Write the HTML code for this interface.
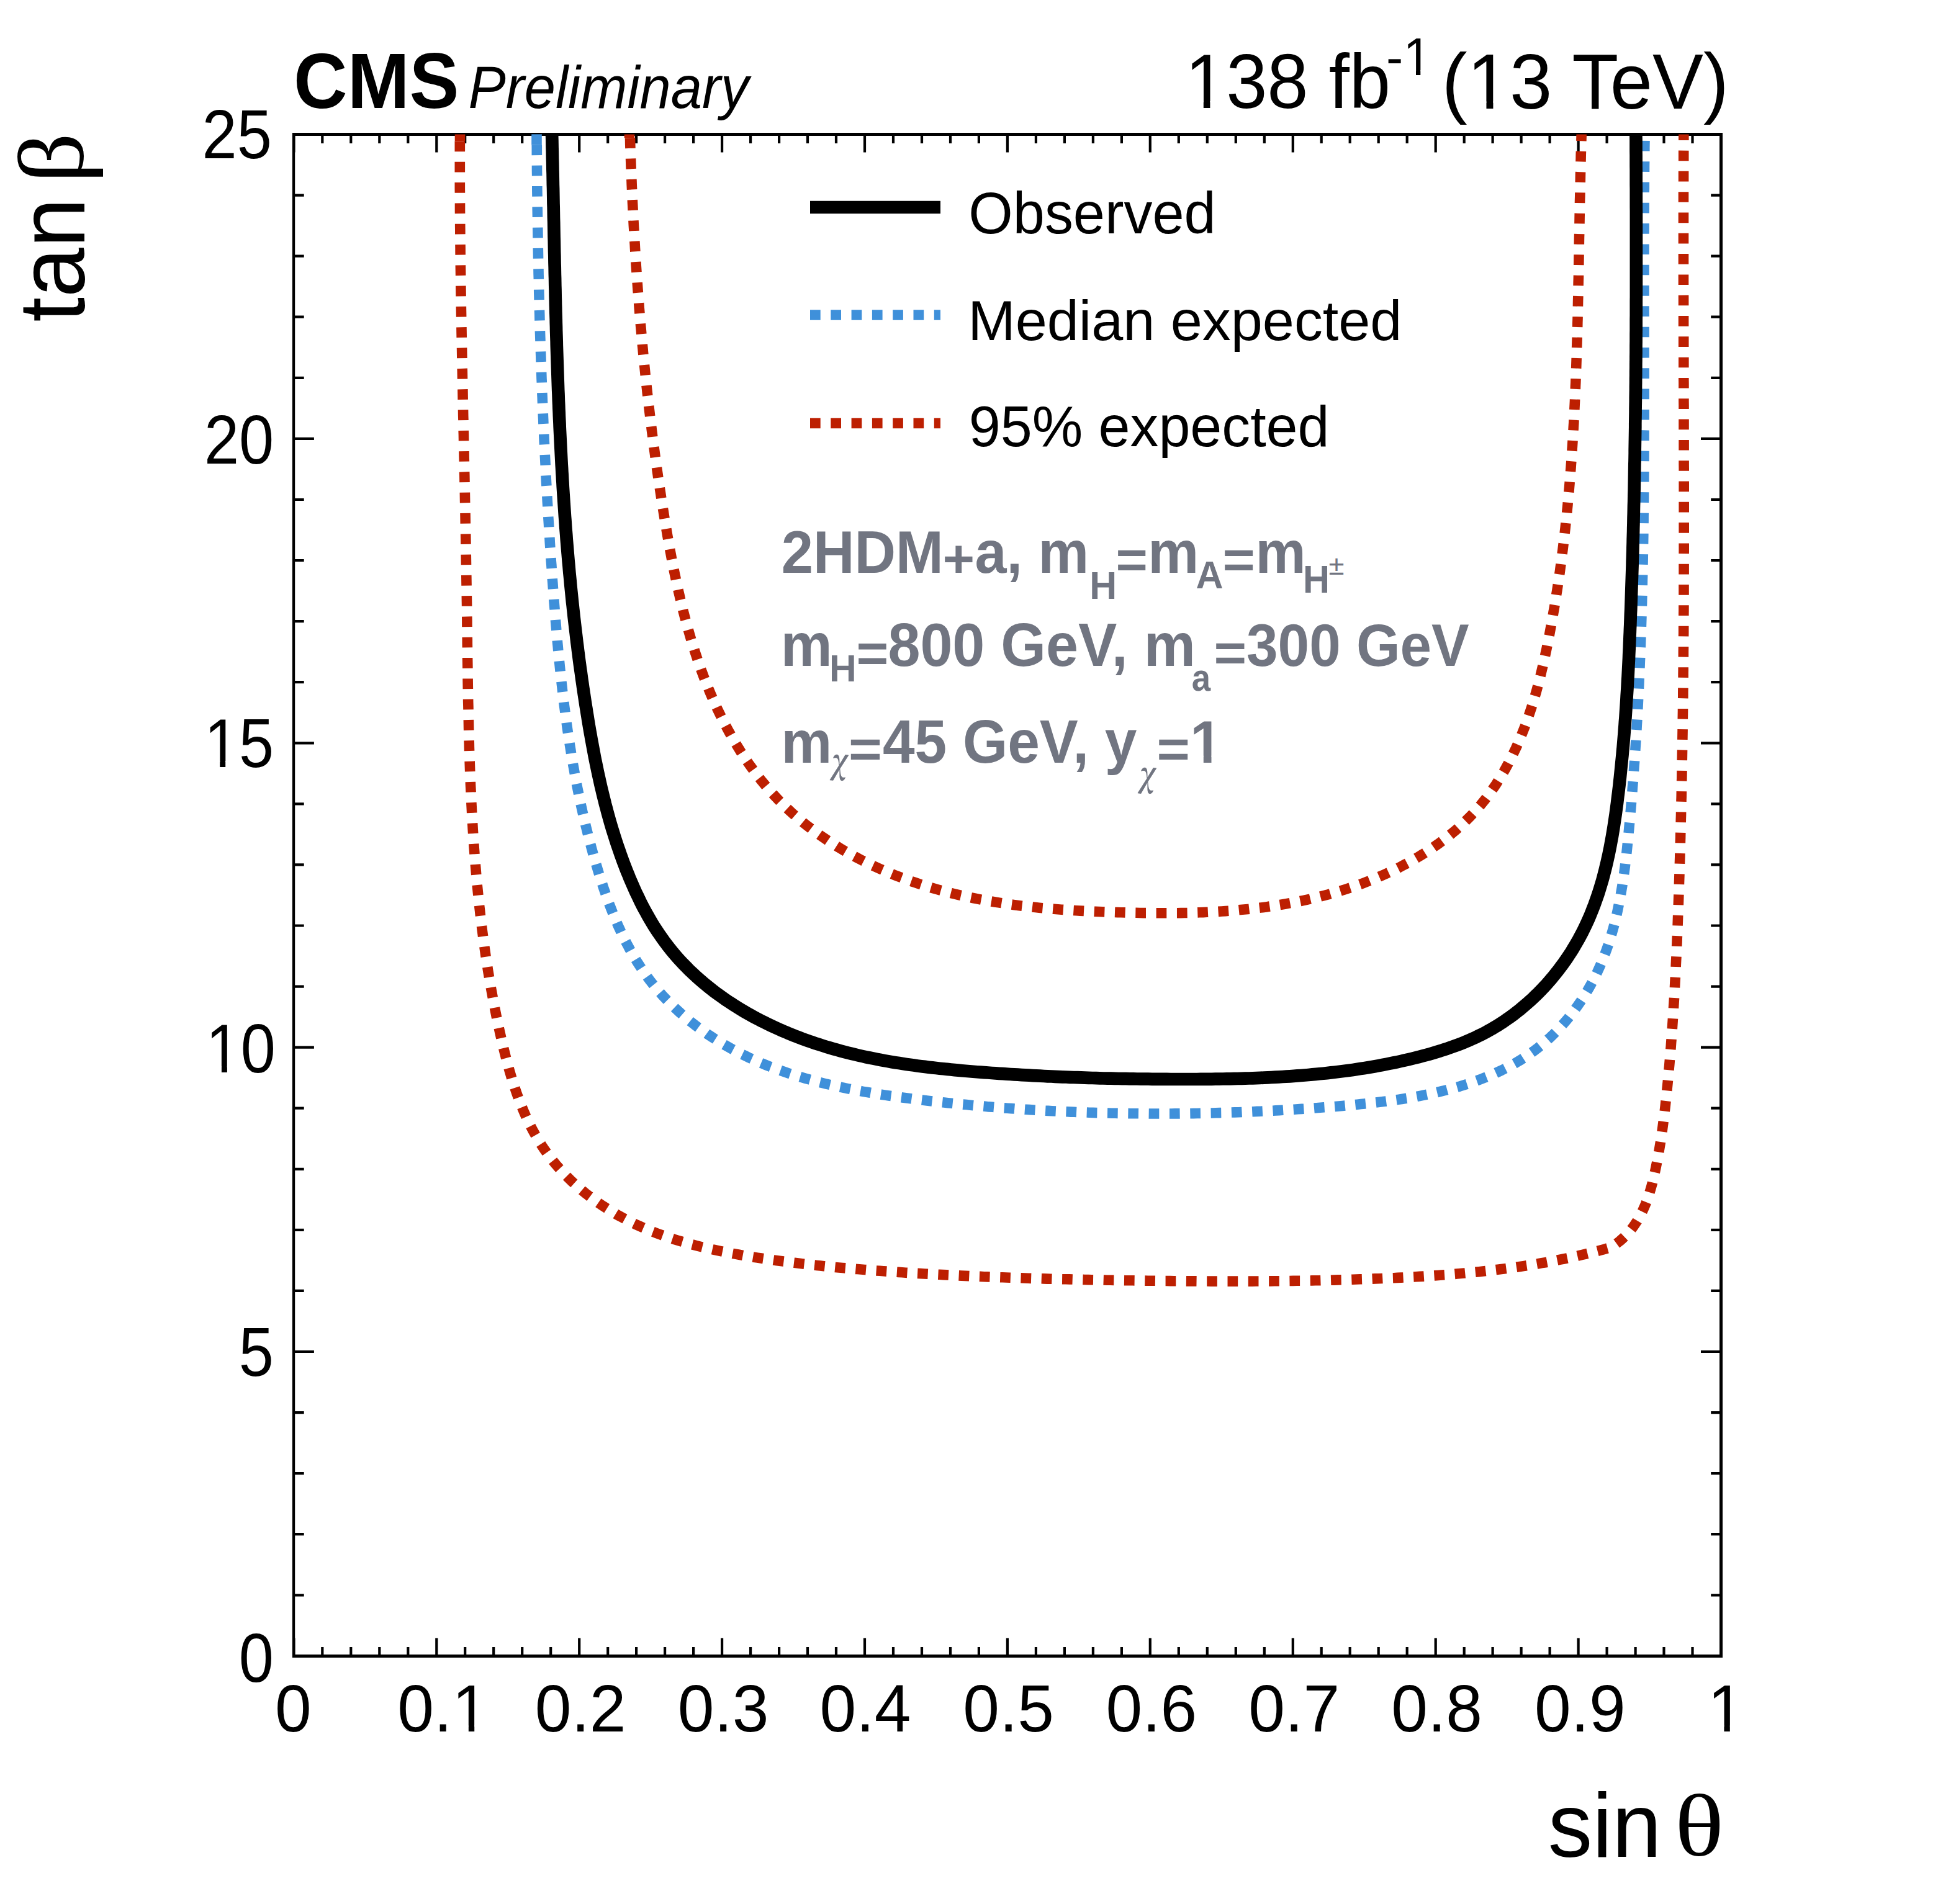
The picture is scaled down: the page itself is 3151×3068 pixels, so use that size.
<!DOCTYPE html>
<html><head><meta charset="utf-8"><title>CMS Preliminary</title><style>
html,body{margin:0;padding:0;background:#fff;overflow:hidden;}
svg{display:block;}
text{font-family:"Liberation Sans",Arial,Helvetica,sans-serif;}
.g{font-family:"Liberation Serif","DejaVu Serif",serif;}
.d{font-family:"DejaVu Serif","Liberation Serif",serif;}
.ns{font-family:"Noto Serif CJK SC","DejaVu Serif",serif;}
</style></head><body>
<svg width="3151" height="3068" viewBox="0 0 3151 3068">
<rect x="0" y="0" width="3151" height="3068" fill="#fff"/>
<defs><clipPath id="pc"><rect x="473.4" y="216.5" width="2299.2" height="2451.9"/></clipPath></defs>
<path d="M473.4 2668.4V2639.4M473.4 216.5V245.5M519.3 2668.4V2653.9M519.3 216.5V231M565.3 2668.4V2653.9M565.3 216.5V231M611.3 2668.4V2653.9M611.3 216.5V231M657.3 2668.4V2653.9M657.3 216.5V231M703.3 2668.4V2639.4M703.3 216.5V245.5M749.2 2668.4V2653.9M749.2 216.5V231M795.2 2668.4V2653.9M795.2 216.5V231M841.2 2668.4V2653.9M841.2 216.5V231M887.2 2668.4V2653.9M887.2 216.5V231M933.2 2668.4V2639.4M933.2 216.5V245.5M979.2 2668.4V2653.9M979.2 216.5V231M1025.1 2668.4V2653.9M1025.1 216.5V231M1071.1 2668.4V2653.9M1071.1 216.5V231M1117.1 2668.4V2653.9M1117.1 216.5V231M1163.1 2668.4V2639.4M1163.1 216.5V245.5M1209.1 2668.4V2653.9M1209.1 216.5V231M1255.1 2668.4V2653.9M1255.1 216.5V231M1301 2668.4V2653.9M1301 216.5V231M1347 2668.4V2653.9M1347 216.5V231M1393 2668.4V2639.4M1393 216.5V245.5M1439 2668.4V2653.9M1439 216.5V231M1485 2668.4V2653.9M1485 216.5V231M1531 2668.4V2653.9M1531 216.5V231M1576.9 2668.4V2653.9M1576.9 216.5V231M1622.9 2668.4V2639.4M1622.9 216.5V245.5M1668.9 2668.4V2653.9M1668.9 216.5V231M1714.9 2668.4V2653.9M1714.9 216.5V231M1760.9 2668.4V2653.9M1760.9 216.5V231M1806.9 2668.4V2653.9M1806.9 216.5V231M1852.8 2668.4V2639.4M1852.8 216.5V245.5M1898.8 2668.4V2653.9M1898.8 216.5V231M1944.8 2668.4V2653.9M1944.8 216.5V231M1990.8 2668.4V2653.9M1990.8 216.5V231M2036.8 2668.4V2653.9M2036.8 216.5V231M2082.8 2668.4V2639.4M2082.8 216.5V245.5M2128.7 2668.4V2653.9M2128.7 216.5V231M2174.7 2668.4V2653.9M2174.7 216.5V231M2220.7 2668.4V2653.9M2220.7 216.5V231M2266.7 2668.4V2653.9M2266.7 216.5V231M2312.7 2668.4V2639.4M2312.7 216.5V245.5M2358.7 2668.4V2653.9M2358.7 216.5V231M2404.6 2668.4V2653.9M2404.6 216.5V231M2450.6 2668.4V2653.9M2450.6 216.5V231M2496.6 2668.4V2653.9M2496.6 216.5V231M2542.6 2668.4V2639.4M2542.6 216.5V245.5M2588.6 2668.4V2653.9M2588.6 216.5V231M2634.6 2668.4V2653.9M2634.6 216.5V231M2680.5 2668.4V2653.9M2680.5 216.5V231M2726.5 2668.4V2653.9M2726.5 216.5V231M2772.5 2668.4V2639.4M2772.5 216.5V245.5M473.4 2668.4H505.9M2772.5 2668.4H2740M473.4 2570.3H489.7M2772.5 2570.3H2756.2M473.4 2472.2H489.7M2772.5 2472.2H2756.2M473.4 2374.2H489.7M2772.5 2374.2H2756.2M473.4 2276.1H489.7M2772.5 2276.1H2756.2M473.4 2178H505.9M2772.5 2178H2740M473.4 2079.9H489.7M2772.5 2079.9H2756.2M473.4 1981.9H489.7M2772.5 1981.9H2756.2M473.4 1883.8H489.7M2772.5 1883.8H2756.2M473.4 1785.7H489.7M2772.5 1785.7H2756.2M473.4 1687.6H505.9M2772.5 1687.6H2740M473.4 1589.6H489.7M2772.5 1589.6H2756.2M473.4 1491.5H489.7M2772.5 1491.5H2756.2M473.4 1393.4H489.7M2772.5 1393.4H2756.2M473.4 1295.3H489.7M2772.5 1295.3H2756.2M473.4 1197.3H505.9M2772.5 1197.3H2740M473.4 1099.2H489.7M2772.5 1099.2H2756.2M473.4 1001.1H489.7M2772.5 1001.1H2756.2M473.4 903H489.7M2772.5 903H2756.2M473.4 805H489.7M2772.5 805H2756.2M473.4 706.9H505.9M2772.5 706.9H2740M473.4 608.8H489.7M2772.5 608.8H2756.2M473.4 510.7H489.7M2772.5 510.7H2756.2M473.4 412.7H489.7M2772.5 412.7H2756.2M473.4 314.6H489.7M2772.5 314.6H2756.2M473.4 216.5H505.9M2772.5 216.5H2740" stroke="#000" stroke-width="4.2" fill="none"/>
<path d="M471 214.1H2775V218.9H471Z M471 2665.9H2775V2670.9H471Z M470.9 214.1H475.2V2670.9H470.9Z M2770 214.1H2775V2670.9H2770Z" fill="#000"/>
<g clip-path="url(#pc)" fill="none" stroke-linejoin="round">
<path d="M741.0 190.0 L741.0 196.0 741.0 202.0 740.9 208.0 740.9 214.0 740.9 220.0 740.8 226.0 740.8 232.0 740.8 238.0 740.8 244.0 740.8 250.0 740.8 256.0 740.8 262.0 740.8 268.0 740.8 274.0 740.8 280.0 740.8 286.0 740.8 292.0 740.8 298.0 740.8 304.0 740.9 310.0 740.9 316.0 740.9 322.0 741.0 328.0 741.0 334.1 741.0 340.1 741.1 346.1 741.1 352.1 741.2 358.1 741.2 364.1 741.3 370.1 741.3 376.1 741.4 382.1 741.4 388.1 741.5 394.1 741.6 400.1 741.6 406.1 741.7 412.1 741.8 418.1 741.8 424.1 741.9 430.1 742.0 436.1 742.1 442.1 742.2 448.1 742.2 454.1 742.3 460.1 742.4 466.1 742.5 472.1 742.6 478.1 742.7 484.1 742.8 490.1 742.9 496.1 743.0 502.1 743.1 508.1 743.2 514.1 743.3 520.1 743.4 526.1 743.5 532.1 743.6 538.1 743.7 544.1 743.8 550.1 743.9 556.1 744.1 562.1 744.2 568.1 744.3 574.1 744.4 580.1 744.5 586.1 744.6 592.1 744.8 598.1 744.9 604.1 745.0 610.1 745.1 616.1 745.2 622.1 745.4 628.1 745.5 634.1 745.6 640.1 745.7 646.1 745.9 652.1 746.0 658.1 746.1 664.1 746.2 670.1 746.4 676.1 746.5 682.1 746.6 688.1 746.7 694.1 746.9 700.1 747.0 706.1 747.1 712.1 747.3 718.1 747.4 724.1 747.5 730.1 747.6 736.1 747.8 742.1 747.9 748.1 748.0 754.1 748.1 760.1 748.3 766.1 748.4 772.1 748.5 778.1 748.6 784.1 748.8 790.1 748.9 796.2 749.0 802.2 749.1 808.2 749.3 814.2 749.4 820.2 749.5 826.2 749.6 832.2 749.7 838.2 749.8 844.2 750.0 850.2 750.1 856.2 750.2 862.2 750.3 868.2 750.4 874.2 750.5 880.2 750.6 886.2 750.7 892.2 750.8 898.2 750.9 904.2 751.0 910.2 751.1 916.2 751.2 922.2 751.3 928.2 751.4 934.2 751.5 940.2 751.6 946.2 751.7 952.2 751.8 958.2 751.9 964.2 752.0 970.2 752.1 976.2 752.1 982.2 752.2 988.2 752.3 994.2 752.4 1000.2 752.4 1006.2 752.5 1012.2 752.6 1018.2 752.7 1024.2 752.8 1030.2 752.8 1036.2 752.9 1042.2 753.0 1048.2 753.1 1054.2 753.1 1060.2 753.2 1066.2 753.3 1072.2 753.4 1078.2 753.5 1084.2 753.6 1090.2 753.6 1096.2 753.7 1102.2 753.8 1108.2 753.9 1114.2 754.0 1120.2 754.1 1126.2 754.2 1132.2 754.4 1138.2 754.5 1144.2 754.6 1150.2 754.7 1156.2 754.9 1162.2 755.0 1168.2 755.1 1174.2 755.3 1180.2 755.4 1186.2 755.6 1192.2 755.8 1198.2 755.9 1204.2 756.1 1210.2 756.3 1216.2 756.5 1222.2 756.7 1228.2 756.9 1234.2 757.1 1240.2 757.3 1246.2 757.6 1252.2 757.8 1258.2 758.0 1264.2 758.3 1270.2 758.6 1276.2 758.8 1282.2 759.1 1288.2 759.4 1294.2 759.7 1300.2 760.0 1306.2 760.3 1312.2 760.7 1318.2 761.0 1324.2 761.4 1330.2 761.7 1336.2 762.1 1342.1 762.5 1348.1 762.9 1354.1 763.3 1360.1 763.7 1366.1 764.2 1372.1 764.6 1378.1 765.1 1384.1 765.6 1390.0 766.1 1396.0 766.6 1402.0 767.1 1408.0 767.6 1414.0 768.2 1419.9 768.7 1425.9 769.3 1431.9 769.9 1437.9 770.5 1443.8 771.1 1449.8 771.7 1455.8 772.4 1461.7 773.1 1467.7 773.7 1473.7 774.4 1479.6 775.1 1485.6 775.9 1491.5 776.6 1497.5 777.4 1503.5 778.2 1509.4 779.0 1515.4 779.8 1521.3 780.6 1527.2 781.5 1533.2 782.3 1539.1 783.2 1545.1 784.1 1551.0 785.1 1556.9 786.0 1562.9 787.0 1568.8 788.0 1574.7 789.0 1580.6 790.0 1586.5 791.0 1592.4 792.1 1598.3 793.2 1604.2 794.3 1610.1 795.4 1616.0 796.6 1621.9 797.7 1627.8 798.9 1633.7 800.1 1639.6 801.3 1645.5 802.6 1651.3 803.9 1657.2 805.2 1663.1 806.5 1668.9 807.8 1674.8 809.2 1680.6 810.6 1686.5 812.0 1692.3 813.5 1698.1 814.9 1703.9 816.5 1709.7 818.0 1715.5 819.6 1721.3 821.3 1727.1 823.0 1732.8 824.7 1738.6 826.5 1744.3 828.4 1750.0 830.3 1755.7 832.3 1761.4 834.3 1767.0 836.4 1772.6 838.6 1778.2 840.8 1783.8 843.1 1789.4 845.5 1794.9 847.9 1800.3 850.5 1805.8 853.1 1811.2 855.8 1816.5 858.6 1821.8 861.5 1827.1 864.5 1832.3 867.5 1837.5 870.7 1842.6 873.9 1847.6 877.3 1852.6 880.8 1857.5 884.3 1862.3 888.0 1867.1 891.7 1871.8 895.5 1876.4 899.5 1881.0 903.5 1885.4 907.5 1889.8 911.7 1894.2 915.9 1898.4 920.2 1902.6 924.6 1906.7 929.1 1910.7 933.6 1914.7 938.2 1918.6 942.8 1922.4 947.5 1926.1 952.3 1929.7 957.1 1933.3 962.0 1936.8 966.9 1940.2 971.9 1943.6 976.9 1946.8 982.0 1950.0 987.2 1953.1 992.3 1956.2 997.5 1959.2 1002.8 1962.0 1008.1 1964.9 1013.4 1967.6 1018.8 1970.3 1024.2 1972.9 1029.7 1975.4 1035.2 1977.8 1040.7 1980.2 1046.2 1982.5 1051.8 1984.8 1057.4 1986.9 1063.0 1989.0 1068.7 1991.1 1074.3 1993.0 1080.0 1994.9 1085.7 1996.8 1091.5 1998.6 1097.2 2000.3 1103.0 2002.0 1108.7 2003.6 1114.5 2005.2 1120.3 2006.7 1126.2 2008.2 1132.0 2009.6 1137.8 2011.0 1143.7 2012.4 1149.5 2013.7 1155.4 2014.9 1161.3 2016.1 1167.2 2017.3 1173.0 2018.5 1178.9 2019.6 1184.8 2020.7 1190.8 2021.7 1196.7 2022.8 1202.6 2023.8 1208.5 2024.7 1214.4 2025.7 1220.4 2026.6 1226.3 2027.5 1232.2 2028.4 1238.2 2029.3 1244.1 2030.1 1250.1 2031.0 1256.0 2031.8 1262.0 2032.6 1267.9 2033.3 1273.9 2034.1 1279.8 2034.8 1285.8 2035.6 1291.7 2036.3 1297.7 2037.0 1303.7 2037.6 1309.6 2038.3 1315.6 2038.9 1321.6 2039.6 1327.5 2040.2 1333.5 2040.8 1339.5 2041.3 1345.5 2041.9 1351.4 2042.5 1357.4 2043.0 1363.4 2043.5 1369.4 2044.1 1375.4 2044.6 1381.3 2045.1 1387.3 2045.6 1393.3 2046.0 1399.3 2046.5 1405.3 2047.0 1411.3 2047.4 1417.2 2047.8 1423.2 2048.3 1429.2 2048.7 1435.2 2049.1 1441.2 2049.5 1447.2 2049.9 1453.2 2050.3 1459.2 2050.7 1465.2 2051.1 1471.1 2051.4 1477.1 2051.8 1483.1 2052.1 1489.1 2052.5 1495.1 2052.8 1501.1 2053.2 1507.1 2053.5 1513.1 2053.8 1519.1 2054.1 1525.1 2054.4 1531.1 2054.7 1537.1 2055.0 1543.1 2055.3 1549.1 2055.6 1555.1 2055.9 1561.1 2056.1 1567.1 2056.4 1573.0 2056.7 1579.0 2056.9 1585.0 2057.2 1591.0 2057.4 1597.0 2057.6 1603.0 2057.9 1609.0 2058.1 1615.0 2058.3 1621.0 2058.5 1627.0 2058.7 1633.0 2058.9 1639.0 2059.1 1645.0 2059.3 1651.0 2059.5 1657.0 2059.7 1663.0 2059.9 1669.0 2060.0 1675.0 2060.2 1681.0 2060.4 1687.0 2060.6 1693.0 2060.7 1699.0 2060.9 1705.0 2061.0 1711.0 2061.2 1717.0 2061.3 1723.0 2061.4 1729.0 2061.6 1735.0 2061.7 1741.0 2061.8 1747.0 2062.0 1753.0 2062.1 1759.0 2062.2 1765.0 2062.3 1771.0 2062.4 1777.0 2062.5 1783.0 2062.7 1789.0 2062.8 1795.0 2062.9 1801.0 2063.0 1807.0 2063.1 1813.0 2063.2 1819.0 2063.2 1825.0 2063.3 1831.0 2063.4 1837.0 2063.5 1843.1 2063.6 1849.1 2063.7 1855.1 2063.7 1861.1 2063.8 1867.1 2063.9 1873.1 2064.0 1879.1 2064.0 1885.1 2064.1 1891.1 2064.2 1897.1 2064.2 1903.1 2064.3 1909.1 2064.3 1915.1 2064.4 1921.1 2064.4 1927.1 2064.4 1933.1 2064.5 1939.1 2064.5 1945.1 2064.5 1951.1 2064.6 1957.1 2064.6 1963.1 2064.6 1969.1 2064.6 1975.1 2064.6 1981.1 2064.6 1987.1 2064.6 1993.1 2064.6 1999.1 2064.6 2005.1 2064.6 2011.1 2064.6 2017.1 2064.6 2023.1 2064.5 2029.1 2064.5 2035.1 2064.5 2041.1 2064.4 2047.1 2064.4 2053.1 2064.3 2059.1 2064.2 2065.1 2064.2 2071.1 2064.1 2077.1 2064.0 2083.1 2063.9 2089.1 2063.8 2095.1 2063.8 2101.1 2063.7 2107.1 2063.5 2113.1 2063.4 2119.1 2063.3 2125.1 2063.2 2131.1 2063.0 2137.1 2062.9 2143.1 2062.8 2149.1 2062.6 2155.1 2062.4 2161.1 2062.3 2167.1 2062.1 2173.1 2061.9 2179.1 2061.7 2185.1 2061.5 2191.1 2061.3 2197.1 2061.1 2203.1 2060.9 2209.1 2060.7 2215.1 2060.4 2221.1 2060.2 2227.1 2060.0 2233.1 2059.7 2239.1 2059.4 2245.1 2059.2 2251.1 2058.9 2257.1 2058.6 2263.1 2058.3 2269.1 2058.0 2275.1 2057.6 2281.1 2057.3 2287.1 2056.9 2293.1 2056.6 2299.1 2056.2 2305.0 2055.8 2311.0 2055.4 2317.0 2055.0 2323.0 2054.5 2329.0 2054.1 2335.0 2053.6 2341.0 2053.1 2346.9 2052.6 2352.9 2052.1 2358.9 2051.6 2364.9 2051.0 2370.8 2050.4 2376.8 2049.8 2382.8 2049.2 2388.8 2048.6 2394.7 2047.9 2400.7 2047.2 2406.6 2046.5 2412.6 2045.8 2418.6 2045.1 2424.5 2044.3 2430.5 2043.5 2436.4 2042.7 2442.4 2041.9 2448.3 2041.0 2454.2 2040.1 2460.2 2039.2 2466.1 2038.2 2472.0 2037.3 2477.9 2036.3 2483.8 2035.2 2489.8 2034.2 2495.7 2033.1 2501.6 2032.0 2507.4 2030.9 2513.3 2029.7 2519.2 2028.5 2525.1 2027.3 2531.0 2026.0 2536.8 2024.7 2542.7 2023.4 2548.5 2022.0 2554.4 2020.6 2560.2 2019.2 2566.0 2017.8 2571.8 2016.3 2577.6 2014.8 2583.4 2013.2 2589.2 2011.6 2595.0 2010.0 2600.1 2006.7 2604.9 2003.2 2609.7 1999.5 2614.2 1995.5 2618.5 1991.4 2622.6 1987.0 2626.6 1982.5 2630.3 1977.7 2633.8 1972.8 2637.1 1967.8 2640.1 1962.7 2643.0 1957.4 2645.7 1952.0 2648.2 1946.5 2650.6 1941.0 2652.8 1935.4 2654.8 1929.7 2656.7 1924.0 2658.4 1918.3 2660.1 1912.5 2661.7 1906.7 2663.1 1900.9 2664.5 1895.0 2665.8 1889.2 2667.1 1883.3 2668.3 1877.4 2669.5 1871.5 2670.6 1865.6 2671.7 1859.7 2672.7 1853.8 2673.7 1847.8 2674.7 1841.9 2675.6 1836.0 2676.5 1830.0 2677.4 1824.1 2678.2 1818.1 2679.0 1812.1 2679.8 1806.2 2680.6 1800.2 2681.3 1794.3 2682.0 1788.3 2682.7 1782.3 2683.3 1776.3 2684.0 1770.4 2684.6 1764.4 2685.2 1758.4 2685.8 1752.4 2686.4 1746.4 2687.0 1740.4 2687.5 1734.5 2688.1 1728.5 2688.6 1722.5 2689.2 1716.5 2689.7 1710.5 2690.2 1704.5 2690.7 1698.5 2691.2 1692.5 2691.7 1686.5 2692.1 1680.5 2692.6 1674.6 2693.0 1668.6 2693.5 1662.6 2693.9 1656.6 2694.3 1650.6 2694.7 1644.6 2695.1 1638.6 2695.5 1632.6 2695.9 1626.6 2696.2 1620.6 2696.6 1614.6 2697.0 1608.6 2697.3 1602.6 2697.7 1596.6 2698.0 1590.6 2698.3 1584.6 2698.6 1578.6 2699.0 1572.6 2699.3 1566.5 2699.6 1560.5 2699.8 1554.5 2700.1 1548.5 2700.4 1542.5 2700.7 1536.5 2701.0 1530.5 2701.2 1524.5 2701.5 1518.5 2701.7 1512.5 2702.0 1506.5 2702.2 1500.5 2702.5 1494.5 2702.7 1488.5 2702.9 1482.5 2703.1 1476.5 2703.4 1470.4 2703.6 1464.4 2703.8 1458.4 2704.0 1452.4 2704.2 1446.4 2704.4 1440.4 2704.6 1434.4 2704.8 1428.4 2705.0 1422.4 2705.2 1416.4 2705.4 1410.4 2705.6 1404.3 2705.7 1398.3 2705.9 1392.3 2706.1 1386.3 2706.3 1380.3 2706.4 1374.3 2706.6 1368.3 2706.8 1362.3 2706.9 1356.3 2707.1 1350.3 2707.2 1344.3 2707.4 1338.2 2707.5 1332.2 2707.7 1326.2 2707.8 1320.2 2708.0 1314.2 2708.1 1308.2 2708.3 1302.2 2708.4 1296.2 2708.5 1290.2 2708.7 1284.2 2708.8 1278.1 2708.9 1272.1 2709.0 1266.1 2709.1 1260.1 2709.3 1254.1 2709.4 1248.1 2709.5 1242.1 2709.6 1236.1 2709.7 1230.1 2709.8 1224.0 2709.9 1218.0 2710.0 1212.0 2710.1 1206.0 2710.2 1200.0 2710.3 1194.0 2710.4 1188.0 2710.5 1182.0 2710.6 1176.0 2710.7 1169.9 2710.7 1163.9 2710.8 1157.9 2710.9 1151.9 2711.0 1145.9 2711.0 1139.9 2711.1 1133.9 2711.2 1127.9 2711.3 1121.8 2711.3 1115.8 2711.4 1109.8 2711.5 1103.8 2711.5 1097.8 2711.6 1091.8 2711.6 1085.8 2711.7 1079.8 2711.7 1073.8 2711.8 1067.7 2711.8 1061.7 2711.9 1055.7 2711.9 1049.7 2712.0 1043.7 2712.0 1037.7 2712.1 1031.7 2712.1 1025.7 2712.2 1019.7 2712.2 1013.6 2712.2 1007.6 2712.3 1001.6 2712.3 995.6 2712.3 989.6 2712.4 983.6 2712.4 977.6 2712.4 971.6 2712.4 965.5 2712.5 959.5 2712.5 953.5 2712.5 947.5 2712.5 941.5 2712.5 935.5 2712.6 929.5 2712.6 923.5 2712.6 917.4 2712.6 911.4 2712.6 905.4 2712.6 899.4 2712.6 893.4 2712.7 887.4 2712.7 881.4 2712.7 875.4 2712.7 869.4 2712.7 863.3 2712.7 857.3 2712.7 851.3 2712.7 845.3 2712.7 839.3 2712.7 833.3 2712.7 827.3 2712.7 821.3 2712.7 815.2 2712.7 809.2 2712.7 803.2 2712.7 797.2 2712.7 791.2 2712.7 785.2 2712.7 779.2 2712.7 773.2 2712.7 767.1 2712.7 761.1 2712.7 755.1 2712.6 749.1 2712.6 743.1 2712.6 737.1 2712.6 731.1 2712.6 725.1 2712.6 719.1 2712.6 713.0 2712.6 707.0 2712.6 701.0 2712.5 695.0 2712.5 689.0 2712.5 683.0 2712.5 677.0 2712.5 671.0 2712.5 664.9 2712.5 658.9 2712.5 652.9 2712.4 646.9 2712.4 640.9 2712.4 634.9 2712.4 628.9 2712.4 622.9 2712.4 616.9 2712.3 610.8 2712.3 604.8 2712.3 598.8 2712.3 592.8 2712.3 586.8 2712.3 580.8 2712.3 574.8 2712.2 568.8 2712.2 562.7 2712.2 556.7 2712.2 550.7 2712.2 544.7 2712.2 538.7 2712.2 532.7 2712.1 526.7 2712.1 520.7 2712.1 514.6 2712.1 508.6 2712.1 502.6 2712.1 496.6 2712.1 490.6 2712.1 484.6 2712.1 478.6 2712.0 472.6 2712.0 466.6 2712.0 460.5 2712.0 454.5 2712.0 448.5 2712.0 442.5 2712.0 436.5 2712.0 430.5 2712.0 424.5 2712.0 418.5 2712.0 412.4 2712.0 406.4 2712.0 400.4 2712.0 394.4 2712.0 388.4 2712.0 382.4 2712.0 376.4 2712.0 370.4 2712.0 364.3 2712.0 358.3 2712.0 352.3 2712.0 346.3 2712.0 340.3 2712.0 334.3 2712.0 328.3 2712.0 322.3 2712.0 316.3 2712.0 310.2 2712.0 304.2 2712.1 298.2 2712.1 292.2 2712.1 286.2 2712.1 280.2 2712.1 274.2 2712.1 268.2 2712.2 262.1 2712.2 256.1 2712.2 250.1 2712.2 244.1 2712.3 238.1 2712.3 232.1 2712.3 226.1 2712.3 220.1 2712.4 214.1 2712.4 208.0 2712.4 202.0 2712.5 196.0 2712.5 190.0" stroke="#bd1f01" stroke-width="16.6" stroke-dasharray="16.655 16.655" stroke-dashoffset="29.13"/>
<path d="M1014.0 190.0 L1014.2 196.0 1014.3 202.0 1014.5 208.0 1014.7 214.0 1014.9 220.0 1015.1 226.0 1015.2 232.0 1015.4 238.0 1015.6 244.0 1015.9 250.0 1016.1 256.0 1016.3 262.0 1016.5 268.0 1016.8 274.0 1017.0 280.0 1017.2 286.0 1017.5 292.0 1017.7 298.0 1018.0 304.0 1018.3 310.0 1018.5 316.0 1018.8 322.0 1019.1 328.0 1019.4 334.0 1019.7 340.0 1020.0 346.0 1020.3 352.0 1020.6 358.0 1020.9 364.0 1021.3 370.0 1021.6 376.0 1021.9 382.0 1022.3 388.0 1022.7 394.0 1023.0 400.0 1023.4 406.0 1023.8 412.0 1024.1 418.0 1024.5 424.0 1024.9 430.0 1025.3 436.0 1025.7 441.9 1026.1 447.9 1026.6 453.9 1027.0 459.9 1027.4 465.9 1027.9 471.9 1028.3 477.9 1028.8 483.9 1029.3 489.9 1029.7 495.8 1030.2 501.8 1030.7 507.8 1031.2 513.8 1031.7 519.8 1032.2 525.8 1032.8 531.8 1033.3 537.7 1033.8 543.7 1034.4 549.7 1034.9 555.7 1035.5 561.7 1036.0 567.6 1036.6 573.6 1037.2 579.6 1037.8 585.6 1038.4 591.5 1039.0 597.5 1039.6 603.5 1040.2 609.5 1040.9 615.4 1041.5 621.4 1042.2 627.4 1042.8 633.4 1043.5 639.3 1044.2 645.3 1044.9 651.3 1045.6 657.2 1046.3 663.2 1047.0 669.1 1047.7 675.1 1048.4 681.1 1049.2 687.0 1049.9 693.0 1050.7 698.9 1051.4 704.9 1052.2 710.9 1053.0 716.8 1053.8 722.8 1054.6 728.7 1055.4 734.7 1056.2 740.6 1057.0 746.6 1057.9 752.5 1058.7 758.5 1059.6 764.4 1060.4 770.4 1061.3 776.3 1062.2 782.2 1063.1 788.2 1064.0 794.1 1064.9 800.0 1065.8 806.0 1066.8 811.9 1067.7 817.8 1068.7 823.8 1069.6 829.7 1070.6 835.6 1071.6 841.6 1072.6 847.5 1073.6 853.4 1074.6 859.3 1075.6 865.2 1076.7 871.1 1077.7 877.1 1078.8 883.0 1079.9 888.9 1081.0 894.8 1082.1 900.7 1083.3 906.6 1084.4 912.5 1085.6 918.3 1086.8 924.2 1088.1 930.1 1089.3 936.0 1090.6 941.9 1091.9 947.7 1093.2 953.6 1094.6 959.4 1095.9 965.3 1097.3 971.1 1098.8 976.9 1100.2 982.8 1101.7 988.6 1103.2 994.4 1104.8 1000.2 1106.3 1006.0 1107.9 1011.8 1109.6 1017.6 1111.2 1023.3 1112.9 1029.1 1114.7 1034.8 1116.5 1040.6 1118.3 1046.3 1120.1 1052.0 1122.0 1057.7 1123.9 1063.4 1125.9 1069.1 1127.9 1074.8 1129.9 1080.4 1132.0 1086.0 1134.1 1091.7 1136.3 1097.3 1138.5 1102.8 1140.8 1108.4 1143.1 1114.0 1145.4 1119.5 1147.8 1125.0 1150.2 1130.5 1152.7 1136.0 1155.2 1141.4 1157.8 1146.8 1160.4 1152.2 1163.1 1157.6 1165.8 1163.0 1168.6 1168.3 1171.4 1173.6 1174.3 1178.9 1177.2 1184.1 1180.1 1189.4 1183.2 1194.6 1186.2 1199.7 1189.4 1204.8 1192.5 1209.9 1195.8 1215.0 1199.1 1220.0 1202.4 1225.0 1205.8 1230.0 1209.3 1234.9 1212.8 1239.7 1216.4 1244.6 1220.0 1249.4 1223.7 1254.1 1227.4 1258.8 1231.2 1263.4 1235.1 1268.0 1239.0 1272.6 1243.0 1277.1 1247.1 1281.5 1251.2 1285.9 1255.3 1290.2 1259.6 1294.5 1263.8 1298.7 1268.2 1302.8 1272.6 1306.9 1277.0 1311.0 1281.5 1314.9 1286.1 1318.8 1290.7 1322.7 1295.3 1326.5 1300.0 1330.2 1304.8 1333.9 1309.6 1337.5 1314.4 1341.1 1319.3 1344.6 1324.2 1348.0 1329.2 1351.4 1334.2 1354.8 1339.2 1358.0 1344.3 1361.2 1349.4 1364.4 1354.5 1367.5 1359.7 1370.6 1364.9 1373.6 1370.2 1376.5 1375.4 1379.4 1380.7 1382.2 1386.1 1385.0 1391.4 1387.7 1396.8 1390.3 1402.2 1393.0 1407.6 1395.5 1413.1 1398.0 1418.6 1400.5 1424.1 1402.9 1429.6 1405.2 1435.2 1407.5 1440.7 1409.8 1446.3 1412.0 1451.9 1414.1 1457.5 1416.2 1463.2 1418.3 1468.9 1420.3 1474.5 1422.2 1480.2 1424.1 1485.9 1426.0 1491.7 1427.8 1497.4 1429.5 1503.2 1431.2 1508.9 1432.9 1514.7 1434.5 1520.5 1436.1 1526.3 1437.6 1532.2 1439.1 1538.0 1440.5 1543.8 1441.9 1549.7 1443.2 1555.6 1444.5 1561.4 1445.8 1567.3 1447.0 1573.2 1448.2 1579.1 1449.3 1585.0 1450.4 1590.9 1451.5 1596.8 1452.5 1602.8 1453.5 1608.7 1454.4 1614.6 1455.3 1620.6 1456.2 1626.5 1457.1 1632.5 1457.9 1638.4 1458.7 1644.4 1459.4 1650.3 1460.1 1656.3 1460.8 1662.3 1461.4 1668.2 1462.1 1674.2 1462.7 1680.2 1463.2 1686.2 1463.8 1692.2 1464.3 1698.2 1464.8 1704.1 1465.3 1710.1 1465.7 1716.1 1466.1 1722.1 1466.5 1728.1 1466.9 1734.1 1467.3 1740.1 1467.6 1746.1 1467.9 1752.1 1468.2 1758.1 1468.5 1764.1 1468.8 1770.1 1469.0 1776.1 1469.3 1782.1 1469.5 1788.1 1469.7 1794.1 1469.9 1800.1 1470.1 1806.1 1470.3 1812.1 1470.4 1818.1 1470.6 1824.1 1470.7 1830.1 1470.8 1836.1 1471.0 1842.1 1471.1 1848.1 1471.1 1854.1 1471.2 1860.1 1471.3 1866.2 1471.3 1872.2 1471.3 1878.2 1471.3 1884.2 1471.3 1890.2 1471.2 1896.2 1471.2 1902.2 1471.1 1908.2 1471.0 1914.2 1470.9 1920.2 1470.7 1926.2 1470.5 1932.2 1470.3 1938.2 1470.1 1944.2 1469.8 1950.2 1469.5 1956.2 1469.2 1962.2 1468.9 1968.2 1468.5 1974.2 1468.1 1980.2 1467.7 1986.2 1467.2 1992.1 1466.7 1998.1 1466.1 2004.1 1465.6 2010.1 1465.0 2016.0 1464.3 2022.0 1463.6 2028.0 1462.9 2033.9 1462.2 2039.9 1461.4 2045.8 1460.5 2051.8 1459.6 2057.7 1458.7 2063.6 1457.8 2069.6 1456.8 2075.5 1455.7 2081.4 1454.6 2087.3 1453.5 2093.2 1452.3 2099.0 1451.1 2104.9 1449.8 2110.8 1448.5 2116.6 1447.1 2122.5 1445.7 2128.3 1444.2 2134.1 1442.7 2139.9 1441.2 2145.7 1439.5 2151.4 1437.9 2157.2 1436.2 2162.9 1434.4 2168.7 1432.6 2174.4 1430.7 2180.1 1428.8 2185.7 1426.8 2191.4 1424.8 2197.0 1422.7 2202.6 1420.6 2208.2 1418.4 2213.8 1416.1 2219.3 1413.8 2224.9 1411.4 2230.4 1409.0 2235.8 1406.5 2241.3 1404.0 2246.7 1401.4 2252.1 1398.8 2257.4 1396.0 2262.7 1393.2 2268.0 1390.4 2273.3 1387.5 2278.5 1384.5 2283.7 1381.5 2288.8 1378.4 2293.9 1375.2 2299.0 1372.0 2304.0 1368.7 2309.0 1365.3 2313.9 1361.9 2318.8 1358.4 2323.6 1354.8 2328.4 1351.2 2333.1 1347.5 2337.8 1343.7 2342.4 1339.9 2347.0 1335.9 2351.4 1331.9 2355.9 1327.9 2360.2 1323.7 2364.5 1319.5 2368.7 1315.3 2372.9 1310.9 2377.0 1306.5 2381.0 1302.0 2384.9 1297.5 2388.7 1292.8 2392.4 1288.2 2396.1 1283.4 2399.7 1278.6 2403.2 1273.7 2406.6 1268.8 2410.0 1263.8 2413.2 1258.7 2416.4 1253.6 2419.5 1248.5 2422.6 1243.3 2425.5 1238.1 2428.4 1232.8 2431.2 1227.5 2434.0 1222.2 2436.6 1216.8 2439.2 1211.4 2441.8 1206.0 2444.3 1200.5 2446.7 1195.0 2449.0 1189.5 2451.3 1183.9 2453.5 1178.3 2455.7 1172.7 2457.8 1167.1 2459.9 1161.5 2461.9 1155.8 2463.8 1150.1 2465.7 1144.4 2467.6 1138.7 2469.4 1133.0 2471.1 1127.2 2472.8 1121.5 2474.5 1115.7 2476.1 1109.9 2477.6 1104.1 2479.2 1098.3 2480.7 1092.5 2482.1 1086.7 2483.5 1080.8 2484.9 1075.0 2486.3 1069.1 2487.6 1063.3 2488.9 1057.4 2490.1 1051.5 2491.4 1045.7 2492.6 1039.8 2493.8 1033.9 2494.9 1028.0 2496.1 1022.1 2497.2 1016.2 2498.3 1010.3 2499.4 1004.4 2500.5 998.5 2501.5 992.6 2502.5 986.6 2503.6 980.7 2504.6 974.8 2505.5 968.9 2506.5 962.9 2507.4 957.0 2508.4 951.1 2509.3 945.1 2510.2 939.2 2511.1 933.3 2511.9 927.3 2512.8 921.4 2513.6 915.4 2514.4 909.5 2515.2 903.5 2516.0 897.6 2516.7 891.6 2517.5 885.7 2518.2 879.7 2519.0 873.7 2519.7 867.8 2520.4 861.8 2521.0 855.8 2521.7 849.9 2522.3 843.9 2523.0 837.9 2523.6 832.0 2524.2 826.0 2524.8 820.0 2525.4 814.0 2525.9 808.0 2526.5 802.1 2527.0 796.1 2527.6 790.1 2528.1 784.1 2528.6 778.1 2529.1 772.1 2529.6 766.2 2530.0 760.2 2530.5 754.2 2530.9 748.2 2531.4 742.2 2531.8 736.2 2532.2 730.2 2532.6 724.2 2533.0 718.2 2533.4 712.2 2533.8 706.2 2534.1 700.3 2534.5 694.3 2534.8 688.3 2535.2 682.3 2535.5 676.3 2535.8 670.3 2536.1 664.3 2536.4 658.3 2536.7 652.3 2537.0 646.3 2537.2 640.3 2537.5 634.3 2537.8 628.3 2538.0 622.3 2538.3 616.3 2538.5 610.3 2538.7 604.3 2538.9 598.3 2539.2 592.3 2539.4 586.3 2539.6 580.3 2539.8 574.3 2540.0 568.3 2540.1 562.3 2540.3 556.3 2540.5 550.3 2540.7 544.2 2540.8 538.2 2541.0 532.2 2541.2 526.2 2541.3 520.2 2541.5 514.2 2541.6 508.2 2541.7 502.2 2541.9 496.2 2542.0 490.2 2542.1 484.2 2542.3 478.2 2542.4 472.2 2542.5 466.2 2542.6 460.2 2542.7 454.2 2542.9 448.2 2543.0 442.2 2543.1 436.2 2543.2 430.2 2543.3 424.2 2543.4 418.2 2543.5 412.2 2543.6 406.1 2543.7 400.1 2543.8 394.1 2543.9 388.1 2544.0 382.1 2544.2 376.1 2544.3 370.1 2544.4 364.1 2544.5 358.1 2544.6 352.1 2544.7 346.1 2544.8 340.1 2544.9 334.1 2545.0 328.1 2545.1 322.1 2545.3 316.1 2545.4 310.1 2545.5 304.1 2545.6 298.1 2545.8 292.1 2545.9 286.1 2546.0 280.0 2546.2 274.0 2546.3 268.0 2546.4 262.0 2546.6 256.0 2546.7 250.0 2546.9 244.0 2547.1 238.0 2547.2 232.0 2547.4 226.0 2547.6 220.0 2547.7 214.0 2547.9 208.0 2548.1 202.0 2548.3 196.0 2548.5 190.0" stroke="#bd1f01" stroke-width="16.6" stroke-dasharray="16.660 16.660" stroke-dashoffset="1.03"/>
<path d="M864.5 190.0 L864.5 196.0 864.5 202.0 864.6 208.0 864.6 214.0 864.6 220.0 864.7 226.0 864.7 232.0 864.8 238.0 864.8 244.0 864.8 250.0 864.9 256.0 864.9 262.1 865.0 268.1 865.0 274.1 865.1 280.1 865.2 286.1 865.2 292.1 865.3 298.1 865.3 304.1 865.4 310.1 865.5 316.1 865.6 322.1 865.6 328.1 865.7 334.1 865.8 340.1 865.9 346.1 866.0 352.1 866.1 358.1 866.2 364.1 866.3 370.1 866.4 376.1 866.5 382.1 866.6 388.1 866.7 394.1 866.8 400.1 866.9 406.1 867.0 412.2 867.1 418.2 867.2 424.2 867.4 430.2 867.5 436.2 867.6 442.2 867.8 448.2 867.9 454.2 868.0 460.2 868.2 466.2 868.3 472.2 868.5 478.2 868.6 484.2 868.8 490.2 868.9 496.2 869.1 502.2 869.3 508.2 869.4 514.2 869.6 520.2 869.8 526.2 869.9 532.2 870.1 538.2 870.3 544.2 870.5 550.2 870.7 556.2 870.9 562.2 871.1 568.2 871.3 574.2 871.5 580.2 871.7 586.2 871.9 592.2 872.1 598.2 872.3 604.2 872.5 610.2 872.8 616.2 873.0 622.2 873.2 628.2 873.4 634.2 873.7 640.2 873.9 646.2 874.2 652.2 874.4 658.2 874.7 664.2 874.9 670.2 875.2 676.2 875.4 682.2 875.7 688.2 876.0 694.2 876.3 700.2 876.5 706.2 876.8 712.2 877.1 718.2 877.4 724.2 877.7 730.2 878.0 736.2 878.3 742.2 878.6 748.2 878.9 754.2 879.2 760.2 879.5 766.2 879.8 772.2 880.1 778.2 880.5 784.2 880.8 790.2 881.1 796.2 881.5 802.2 881.8 808.2 882.2 814.2 882.5 820.1 882.9 826.1 883.2 832.1 883.6 838.1 884.0 844.1 884.3 850.1 884.7 856.1 885.1 862.1 885.5 868.1 885.8 874.1 886.2 880.1 886.6 886.1 887.0 892.1 887.4 898.0 887.8 904.0 888.3 910.0 888.7 916.0 889.1 922.0 889.5 928.0 889.9 934.0 890.4 940.0 890.8 946.0 891.3 952.0 891.7 957.9 892.2 963.9 892.6 969.9 893.1 975.9 893.6 981.9 894.0 987.9 894.5 993.9 895.0 999.8 895.5 1005.8 896.0 1011.8 896.5 1017.8 897.1 1023.8 897.6 1029.8 898.1 1035.7 898.7 1041.7 899.2 1047.7 899.8 1053.7 900.4 1059.6 901.0 1065.6 901.6 1071.6 902.2 1077.6 902.8 1083.5 903.5 1089.5 904.1 1095.5 904.8 1101.5 905.5 1107.4 906.1 1113.4 906.8 1119.3 907.6 1125.3 908.3 1131.3 909.0 1137.2 909.8 1143.2 910.6 1149.1 911.4 1155.1 912.2 1161.0 913.0 1167.0 913.8 1172.9 914.7 1178.9 915.6 1184.8 916.5 1190.8 917.4 1196.7 918.3 1202.6 919.3 1208.5 920.2 1214.5 921.2 1220.4 922.2 1226.3 923.2 1232.2 924.3 1238.1 925.4 1244.1 926.4 1250.0 927.5 1255.9 928.7 1261.8 929.8 1267.7 931.0 1273.5 932.2 1279.4 933.4 1285.3 934.7 1291.2 935.9 1297.1 937.2 1302.9 938.5 1308.8 939.9 1314.6 941.2 1320.5 942.6 1326.3 944.0 1332.2 945.5 1338.0 946.9 1343.8 948.4 1349.6 949.9 1355.4 951.5 1361.2 953.0 1367.0 954.6 1372.8 956.2 1378.6 957.9 1384.4 959.6 1390.1 961.3 1395.9 963.0 1401.7 964.8 1407.4 966.6 1413.1 968.4 1418.8 970.3 1424.6 972.1 1430.3 974.1 1435.9 976.1 1441.6 978.1 1447.3 980.1 1452.9 982.2 1458.5 984.4 1464.1 986.6 1469.7 988.8 1475.3 991.1 1480.8 993.5 1486.4 995.9 1491.9 998.4 1497.3 1000.9 1502.8 1003.5 1508.2 1006.2 1513.6 1008.9 1518.9 1011.7 1524.2 1014.5 1529.5 1017.4 1534.8 1020.4 1540.0 1023.5 1545.1 1026.7 1550.3 1029.9 1555.3 1033.2 1560.3 1036.5 1565.3 1040.0 1570.2 1043.5 1575.1 1047.1 1579.9 1050.8 1584.6 1054.6 1589.3 1058.5 1593.9 1062.4 1598.4 1066.4 1602.9 1070.4 1607.3 1074.6 1611.7 1078.8 1616.0 1083.1 1620.2 1087.4 1624.3 1091.8 1628.4 1096.3 1632.5 1100.8 1636.4 1105.3 1640.3 1110.0 1644.1 1114.7 1647.9 1119.4 1651.6 1124.2 1655.2 1129.0 1658.7 1133.9 1662.2 1138.8 1665.7 1143.8 1669.0 1148.8 1672.3 1153.9 1675.5 1159.0 1678.7 1164.1 1681.8 1169.3 1684.8 1174.6 1687.8 1179.8 1690.7 1185.1 1693.5 1190.4 1696.3 1195.8 1699.0 1201.2 1701.6 1206.6 1704.2 1212.1 1706.7 1217.6 1709.2 1223.1 1711.6 1228.6 1713.9 1234.2 1716.2 1239.7 1718.4 1245.3 1720.5 1251.0 1722.6 1256.6 1724.7 1262.3 1726.7 1268.0 1728.6 1273.7 1730.5 1279.4 1732.3 1285.1 1734.1 1290.9 1735.8 1296.6 1737.5 1302.4 1739.1 1308.2 1740.7 1314.0 1742.3 1319.8 1743.8 1325.6 1745.2 1331.5 1746.7 1337.3 1748.0 1343.2 1749.4 1349.0 1750.7 1354.9 1751.9 1360.8 1753.2 1366.7 1754.3 1372.6 1755.5 1378.5 1756.6 1384.4 1757.7 1390.3 1758.8 1396.2 1759.8 1402.1 1760.8 1408.0 1761.8 1414.0 1762.8 1419.9 1763.7 1425.8 1764.6 1431.8 1765.5 1437.7 1766.3 1443.7 1767.2 1449.6 1768.0 1455.6 1768.8 1461.5 1769.5 1467.5 1770.3 1473.4 1771.1 1479.4 1771.8 1485.3 1772.5 1491.3 1773.2 1497.3 1773.9 1503.2 1774.6 1509.2 1775.2 1515.2 1775.9 1521.1 1776.5 1527.1 1777.2 1533.1 1777.8 1539.1 1778.4 1545.0 1779.0 1551.0 1779.6 1557.0 1780.1 1563.0 1780.7 1569.0 1781.3 1574.9 1781.8 1580.9 1782.3 1586.9 1782.8 1592.9 1783.4 1598.9 1783.8 1604.8 1784.3 1610.8 1784.8 1616.8 1785.3 1622.8 1785.7 1628.8 1786.1 1634.8 1786.6 1640.8 1787.0 1646.8 1787.4 1652.8 1787.8 1658.8 1788.1 1664.7 1788.5 1670.7 1788.9 1676.7 1789.2 1682.7 1789.6 1688.7 1789.9 1694.7 1790.2 1700.7 1790.5 1706.7 1790.8 1712.7 1791.1 1718.7 1791.3 1724.7 1791.6 1730.7 1791.8 1736.7 1792.1 1742.7 1792.3 1748.7 1792.5 1754.7 1792.7 1760.7 1792.9 1766.7 1793.1 1772.7 1793.2 1778.7 1793.4 1784.7 1793.5 1790.7 1793.7 1796.7 1793.8 1802.7 1793.9 1808.7 1794.0 1814.7 1794.1 1820.7 1794.2 1826.8 1794.3 1832.8 1794.3 1838.8 1794.4 1844.8 1794.4 1850.8 1794.5 1856.8 1794.5 1862.8 1794.5 1868.8 1794.5 1874.8 1794.5 1880.8 1794.5 1886.8 1794.5 1892.8 1794.4 1898.8 1794.4 1904.8 1794.3 1910.8 1794.2 1916.8 1794.2 1922.8 1794.1 1928.8 1794.0 1934.8 1793.9 1940.8 1793.7 1946.8 1793.6 1952.8 1793.5 1958.8 1793.3 1964.8 1793.1 1970.8 1793.0 1976.8 1792.8 1982.9 1792.6 1988.9 1792.4 1994.9 1792.2 2000.9 1791.9 2006.9 1791.7 2012.9 1791.5 2018.9 1791.2 2024.9 1790.9 2030.8 1790.7 2036.8 1790.4 2042.8 1790.1 2048.8 1789.8 2054.8 1789.4 2060.8 1789.1 2066.8 1788.8 2072.8 1788.4 2078.8 1788.1 2084.8 1787.7 2090.8 1787.3 2096.8 1786.9 2102.8 1786.5 2108.8 1786.1 2114.8 1785.7 2120.8 1785.2 2126.7 1784.8 2132.7 1784.3 2138.7 1783.9 2144.7 1783.4 2150.7 1782.9 2156.7 1782.4 2162.6 1781.9 2168.6 1781.3 2174.6 1780.8 2180.6 1780.3 2186.6 1779.7 2192.5 1779.1 2198.5 1778.5 2204.5 1777.9 2210.5 1777.2 2216.4 1776.5 2222.4 1775.8 2228.3 1775.1 2234.3 1774.3 2240.3 1773.6 2246.2 1772.7 2252.1 1771.9 2258.1 1771.0 2264.0 1770.0 2269.9 1769.1 2275.9 1768.0 2281.8 1767.0 2287.7 1765.9 2293.6 1764.7 2299.4 1763.5 2305.3 1762.3 2311.2 1761.0 2317.0 1759.6 2322.9 1758.2 2328.7 1756.8 2334.5 1755.2 2340.3 1753.7 2346.1 1752.0 2351.8 1750.4 2357.6 1748.6 2363.3 1746.8 2369.0 1744.9 2374.7 1742.9 2380.3 1740.9 2386.0 1738.8 2391.6 1736.6 2397.1 1734.4 2402.7 1732.0 2408.2 1729.6 2413.6 1727.1 2419.0 1724.6 2424.4 1721.9 2429.8 1719.2 2435.1 1716.3 2440.3 1713.4 2445.5 1710.4 2450.6 1707.3 2455.7 1704.0 2460.7 1700.7 2465.6 1697.3 2470.5 1693.8 2475.3 1690.2 2480.0 1686.5 2484.7 1682.7 2489.3 1678.8 2493.8 1674.8 2498.2 1670.8 2502.5 1666.6 2506.7 1662.4 2510.9 1658.0 2515.0 1653.6 2519.0 1649.2 2522.9 1644.6 2526.8 1640.0 2530.5 1635.3 2534.2 1630.6 2537.8 1625.8 2541.3 1620.9 2544.7 1616.0 2548.1 1611.0 2551.3 1605.9 2554.5 1600.8 2557.6 1595.7 2560.6 1590.5 2563.5 1585.2 2566.3 1579.9 2569.1 1574.6 2571.8 1569.2 2574.3 1563.8 2576.8 1558.3 2579.2 1552.8 2581.5 1547.3 2583.8 1541.7 2585.9 1536.1 2588.0 1530.4 2590.0 1524.8 2591.9 1519.1 2593.7 1513.4 2595.5 1507.6 2597.1 1501.9 2598.8 1496.1 2600.3 1490.3 2601.8 1484.5 2603.2 1478.6 2604.6 1472.8 2605.9 1466.9 2607.1 1461.0 2608.3 1455.2 2609.5 1449.3 2610.6 1443.4 2611.6 1437.5 2612.6 1431.5 2613.6 1425.6 2614.5 1419.7 2615.3 1413.7 2616.2 1407.8 2617.0 1401.8 2617.8 1395.9 2618.5 1389.9 2619.2 1384.0 2619.9 1378.0 2620.6 1372.0 2621.2 1366.1 2621.8 1360.1 2622.4 1354.1 2623.0 1348.1 2623.6 1342.2 2624.2 1336.2 2624.7 1330.2 2625.3 1324.2 2625.8 1318.2 2626.3 1312.3 2626.9 1306.3 2627.4 1300.3 2627.9 1294.3 2628.4 1288.3 2628.9 1282.3 2629.4 1276.4 2629.8 1270.4 2630.3 1264.4 2630.8 1258.4 2631.2 1252.4 2631.7 1246.4 2632.1 1240.4 2632.5 1234.4 2633.0 1228.5 2633.4 1222.5 2633.8 1216.5 2634.2 1210.5 2634.6 1204.5 2635.0 1198.5 2635.4 1192.5 2635.7 1186.5 2636.1 1180.5 2636.5 1174.5 2636.8 1168.5 2637.2 1162.5 2637.5 1156.5 2637.8 1150.5 2638.2 1144.5 2638.5 1138.6 2638.8 1132.6 2639.1 1126.6 2639.4 1120.6 2639.7 1114.6 2640.0 1108.6 2640.3 1102.6 2640.5 1096.6 2640.8 1090.6 2641.1 1084.6 2641.3 1078.6 2641.6 1072.6 2641.8 1066.6 2642.1 1060.6 2642.3 1054.6 2642.5 1048.6 2642.8 1042.6 2643.0 1036.6 2643.2 1030.6 2643.4 1024.6 2643.6 1018.6 2643.8 1012.6 2644.0 1006.6 2644.2 1000.6 2644.4 994.6 2644.6 988.6 2644.7 982.6 2644.9 976.6 2645.1 970.6 2645.2 964.6 2645.4 958.6 2645.5 952.6 2645.7 946.5 2645.8 940.5 2645.9 934.5 2646.1 928.5 2646.2 922.5 2646.3 916.5 2646.4 910.5 2646.6 904.5 2646.7 898.5 2646.8 892.5 2646.9 886.5 2647.0 880.5 2647.1 874.5 2647.2 868.5 2647.3 862.5 2647.3 856.5 2647.4 850.5 2647.5 844.5 2647.6 838.5 2647.6 832.5 2647.7 826.5 2647.8 820.5 2647.8 814.5 2647.9 808.5 2648.0 802.5 2648.0 796.5 2648.1 790.4 2648.1 784.4 2648.2 778.4 2648.2 772.4 2648.2 766.4 2648.3 760.4 2648.3 754.4 2648.3 748.4 2648.4 742.4 2648.4 736.4 2648.4 730.4 2648.5 724.4 2648.5 718.4 2648.5 712.4 2648.5 706.4 2648.5 700.4 2648.5 694.4 2648.6 688.4 2648.6 682.4 2648.6 676.4 2648.6 670.4 2648.6 664.4 2648.6 658.3 2648.6 652.3 2648.6 646.3 2648.6 640.3 2648.6 634.3 2648.6 628.3 2648.6 622.3 2648.6 616.3 2648.6 610.3 2648.6 604.3 2648.6 598.3 2648.6 592.3 2648.6 586.3 2648.6 580.3 2648.5 574.3 2648.5 568.3 2648.5 562.3 2648.5 556.3 2648.5 550.3 2648.5 544.3 2648.5 538.3 2648.5 532.3 2648.5 526.2 2648.5 520.2 2648.5 514.2 2648.5 508.2 2648.4 502.2 2648.4 496.2 2648.4 490.2 2648.4 484.2 2648.4 478.2 2648.4 472.2 2648.4 466.2 2648.4 460.2 2648.4 454.2 2648.4 448.2 2648.4 442.2 2648.4 436.2 2648.4 430.2 2648.4 424.2 2648.4 418.2 2648.4 412.2 2648.4 406.2 2648.4 400.2 2648.4 394.1 2648.4 388.1 2648.4 382.1 2648.4 376.1 2648.5 370.1 2648.5 364.1 2648.5 358.1 2648.5 352.1 2648.5 346.1 2648.6 340.1 2648.6 334.1 2648.6 328.1 2648.6 322.1 2648.7 316.1 2648.7 310.1 2648.8 304.1 2648.8 298.1 2648.8 292.1 2648.9 286.1 2648.9 280.1 2649.0 274.1 2649.0 268.1 2649.1 262.0 2649.1 256.0 2649.2 250.0 2649.3 244.0 2649.3 238.0 2649.4 232.0 2649.5 226.0 2649.6 220.0 2649.6 214.0 2649.7 208.0 2649.8 202.0 2649.9 196.0 2650.0 190.0" stroke="#3f90da" stroke-width="16.6" stroke-dasharray="16.659 16.659" stroke-dashoffset="23.26"/>
<path d="M741 210V227.5" stroke="#bd1f01" stroke-width="16.6"/>
<path d="M864.5 210V233.4" stroke="#3f90da" stroke-width="16.6"/>
<path d="M1014 210V222.3" stroke="#bd1f01" stroke-width="16.6"/>
<path d="M888.5 190.0 L888.6 196.0 888.8 202.0 888.9 208.0 889.1 214.0 889.2 220.0 889.4 226.0 889.5 232.0 889.6 238.1 889.8 244.1 889.9 250.1 890.0 256.1 890.2 262.1 890.3 268.1 890.4 274.1 890.6 280.1 890.7 286.1 890.8 292.1 890.9 298.1 891.1 304.1 891.2 310.1 891.3 316.1 891.4 322.1 891.5 328.2 891.7 334.2 891.8 340.2 891.9 346.2 892.0 352.2 892.2 358.2 892.3 364.2 892.4 370.2 892.5 376.2 892.6 382.2 892.8 388.2 892.9 394.2 893.0 400.2 893.1 406.2 893.3 412.2 893.4 418.3 893.5 424.3 893.7 430.3 893.8 436.3 893.9 442.3 894.1 448.3 894.2 454.3 894.3 460.3 894.5 466.3 894.6 472.3 894.7 478.3 894.9 484.3 895.0 490.3 895.2 496.3 895.3 502.3 895.5 508.4 895.7 514.4 895.8 520.4 896.0 526.4 896.1 532.4 896.3 538.4 896.5 544.4 896.7 550.4 896.8 556.4 897.0 562.4 897.2 568.4 897.4 574.4 897.6 580.4 897.8 586.4 898.0 592.4 898.2 598.4 898.4 604.4 898.6 610.4 898.8 616.4 899.0 622.4 899.2 628.5 899.5 634.5 899.7 640.5 899.9 646.5 900.2 652.5 900.4 658.5 900.7 664.5 900.9 670.5 901.2 676.5 901.5 682.5 901.7 688.5 902.0 694.5 902.3 700.5 902.6 706.5 902.9 712.5 903.2 718.5 903.5 724.5 903.8 730.5 904.1 736.5 904.4 742.5 904.7 748.5 905.1 754.5 905.4 760.5 905.8 766.5 906.1 772.5 906.5 778.5 906.8 784.5 907.2 790.5 907.6 796.5 908.0 802.5 908.4 808.5 908.8 814.5 909.2 820.4 909.6 826.4 910.0 832.4 910.5 838.4 910.9 844.4 911.3 850.4 911.8 856.4 912.3 862.4 912.7 868.4 913.2 874.4 913.7 880.4 914.2 886.3 914.7 892.3 915.2 898.3 915.7 904.3 916.3 910.3 916.8 916.3 917.3 922.3 917.9 928.2 918.5 934.2 919.0 940.2 919.6 946.2 920.2 952.2 920.8 958.1 921.4 964.1 922.0 970.1 922.7 976.1 923.3 982.0 924.0 988.0 924.6 994.0 925.3 1000.0 926.0 1005.9 926.7 1011.9 927.4 1017.9 928.1 1023.8 928.8 1029.8 929.5 1035.8 930.3 1041.7 931.0 1047.7 931.8 1053.6 932.5 1059.6 933.3 1065.6 934.1 1071.5 934.9 1077.5 935.8 1083.4 936.6 1089.4 937.4 1095.3 938.3 1101.3 939.1 1107.2 940.0 1113.1 940.9 1119.1 941.8 1125.0 942.7 1131.0 943.6 1136.9 944.6 1142.8 945.5 1148.8 946.5 1154.7 947.4 1160.6 948.4 1166.6 949.4 1172.5 950.4 1178.4 951.5 1184.3 952.5 1190.2 953.6 1196.2 954.7 1202.1 955.8 1208.0 956.9 1213.9 958.0 1219.8 959.2 1225.7 960.4 1231.6 961.6 1237.4 962.8 1243.3 964.1 1249.2 965.4 1255.1 966.7 1260.9 968.0 1266.8 969.4 1272.6 970.8 1278.5 972.2 1284.3 973.7 1290.1 975.1 1296.0 976.7 1301.8 978.2 1307.6 979.8 1313.4 981.4 1319.2 983.0 1325.0 984.7 1330.7 986.4 1336.5 988.2 1342.2 990.0 1348.0 991.8 1353.7 993.7 1359.4 995.6 1365.1 997.6 1370.8 999.5 1376.4 1001.6 1382.1 1003.6 1387.7 1005.8 1393.4 1007.9 1399.0 1010.1 1404.6 1012.4 1410.1 1014.6 1415.7 1017.0 1421.2 1019.4 1426.7 1021.8 1432.2 1024.3 1437.7 1026.9 1443.1 1029.5 1448.5 1032.1 1453.9 1034.8 1459.3 1037.6 1464.6 1040.5 1469.9 1043.4 1475.1 1046.4 1480.4 1049.4 1485.5 1052.5 1490.7 1055.7 1495.8 1059.0 1500.8 1062.4 1505.8 1065.8 1510.7 1069.3 1515.6 1072.9 1520.4 1076.5 1525.2 1080.2 1529.9 1084.1 1534.6 1087.9 1539.1 1091.9 1543.7 1095.9 1548.1 1100.0 1552.5 1104.2 1556.8 1108.4 1561.1 1112.7 1565.3 1117.1 1569.4 1121.5 1573.5 1126.0 1577.5 1130.5 1581.4 1135.1 1585.3 1139.8 1589.1 1144.5 1592.9 1149.2 1596.6 1154.0 1600.2 1158.8 1603.7 1163.7 1607.2 1168.7 1610.7 1173.6 1614.0 1178.7 1617.3 1183.7 1620.6 1188.8 1623.8 1193.9 1626.9 1199.1 1630.0 1204.3 1633.0 1209.5 1635.9 1214.8 1638.8 1220.1 1641.6 1225.4 1644.4 1230.8 1647.1 1236.2 1649.8 1241.6 1652.4 1247.0 1654.9 1252.5 1657.4 1258.0 1659.9 1263.5 1662.2 1269.1 1664.6 1274.6 1666.8 1280.2 1669.1 1285.8 1671.2 1291.4 1673.4 1297.1 1675.4 1302.7 1677.5 1308.4 1679.4 1314.1 1681.4 1319.8 1683.2 1325.5 1685.0 1331.3 1686.8 1337.0 1688.5 1342.8 1690.2 1348.6 1691.8 1354.4 1693.4 1360.2 1695.0 1366.0 1696.5 1371.8 1697.9 1377.7 1699.3 1383.5 1700.7 1389.4 1702.0 1395.2 1703.3 1401.1 1704.5 1407.0 1705.7 1412.9 1706.9 1418.8 1708.0 1424.7 1709.1 1430.6 1710.2 1436.5 1711.2 1442.5 1712.2 1448.4 1713.1 1454.3 1714.0 1460.3 1714.9 1466.2 1715.8 1472.2 1716.6 1478.1 1717.4 1484.1 1718.2 1490.1 1718.9 1496.0 1719.7 1502.0 1720.4 1508.0 1721.0 1513.9 1721.7 1519.9 1722.3 1525.9 1722.9 1531.9 1723.5 1537.8 1724.1 1543.8 1724.6 1549.8 1725.2 1555.8 1725.7 1561.8 1726.2 1567.8 1726.7 1573.8 1727.2 1579.7 1727.6 1585.7 1728.1 1591.7 1728.5 1597.7 1729.0 1603.7 1729.4 1609.7 1729.8 1615.7 1730.2 1621.7 1730.6 1627.7 1731.0 1633.7 1731.4 1639.7 1731.7 1645.7 1732.1 1651.7 1732.4 1657.7 1732.7 1663.7 1733.1 1669.7 1733.4 1675.7 1733.7 1681.7 1734.0 1687.7 1734.3 1693.7 1734.5 1699.7 1734.8 1705.7 1735.1 1711.7 1735.3 1717.7 1735.5 1723.7 1735.8 1729.7 1736.0 1735.7 1736.2 1741.7 1736.4 1747.7 1736.6 1753.7 1736.8 1759.7 1737.0 1765.7 1737.1 1771.7 1737.3 1777.7 1737.5 1783.8 1737.6 1789.8 1737.7 1795.8 1737.9 1801.8 1738.0 1807.8 1738.1 1813.8 1738.2 1819.8 1738.3 1825.8 1738.4 1831.8 1738.5 1837.8 1738.6 1843.8 1738.7 1849.8 1738.7 1855.8 1738.8 1861.9 1738.8 1867.9 1738.9 1873.9 1738.9 1879.9 1738.9 1885.9 1739.0 1891.9 1739.0 1897.9 1739.0 1903.9 1739.0 1909.9 1739.0 1915.9 1739.0 1921.9 1739.0 1927.9 1739.0 1933.9 1738.9 1940.0 1738.9 1946.0 1738.8 1952.0 1738.8 1958.0 1738.7 1964.0 1738.6 1970.0 1738.5 1976.0 1738.4 1982.0 1738.3 1988.0 1738.2 1994.0 1738.0 2000.0 1737.9 2006.0 1737.7 2012.0 1737.5 2018.0 1737.3 2024.0 1737.1 2030.0 1736.9 2036.1 1736.6 2042.1 1736.3 2048.1 1736.0 2054.1 1735.7 2060.1 1735.4 2066.1 1735.0 2072.0 1734.7 2078.0 1734.3 2084.0 1733.9 2090.0 1733.4 2096.0 1733.0 2102.0 1732.5 2108.0 1732.0 2114.0 1731.4 2120.0 1730.9 2125.9 1730.3 2131.9 1729.7 2137.9 1729.1 2143.9 1728.4 2149.8 1727.7 2155.8 1727.0 2161.8 1726.3 2167.7 1725.5 2173.7 1724.7 2179.6 1723.9 2185.6 1723.0 2191.5 1722.1 2197.4 1721.2 2203.4 1720.2 2209.3 1719.2 2215.2 1718.2 2221.1 1717.1 2227.0 1716.0 2232.9 1714.9 2238.8 1713.7 2244.7 1712.5 2250.6 1711.3 2256.5 1710.0 2262.3 1708.7 2268.2 1707.4 2274.0 1706.0 2279.9 1704.5 2285.7 1703.1 2291.5 1701.6 2297.3 1700.0 2303.1 1698.4 2308.9 1696.7 2314.6 1695.0 2320.4 1693.3 2326.1 1691.4 2331.8 1689.6 2337.5 1687.6 2343.1 1685.6 2348.8 1683.5 2354.4 1681.3 2360.0 1679.1 2365.5 1676.7 2371.0 1674.3 2376.5 1671.8 2381.9 1669.2 2387.3 1666.6 2392.6 1663.8 2397.9 1660.9 2403.1 1658.0 2408.3 1654.9 2413.4 1651.8 2418.5 1648.6 2423.5 1645.2 2428.4 1641.8 2433.3 1638.4 2438.2 1634.8 2442.9 1631.1 2447.7 1627.4 2452.3 1623.6 2456.9 1619.7 2461.4 1615.8 2465.9 1611.8 2470.3 1607.7 2474.6 1603.5 2478.9 1599.3 2483.1 1595.0 2487.2 1590.6 2491.3 1586.2 2495.2 1581.7 2499.2 1577.1 2503.0 1572.5 2506.8 1567.8 2510.5 1563.1 2514.1 1558.3 2517.7 1553.5 2521.2 1548.6 2524.6 1543.6 2527.9 1538.6 2531.2 1533.6 2534.3 1528.5 2537.4 1523.3 2540.4 1518.1 2543.4 1512.9 2546.2 1507.6 2549.0 1502.3 2551.7 1496.9 2554.3 1491.5 2556.8 1486.1 2559.3 1480.6 2561.7 1475.0 2563.9 1469.5 2566.1 1463.9 2568.3 1458.3 2570.3 1452.6 2572.3 1447.0 2574.3 1441.3 2576.1 1435.6 2577.9 1429.8 2579.6 1424.1 2581.3 1418.3 2582.9 1412.5 2584.4 1406.7 2585.9 1400.9 2587.3 1395.0 2588.7 1389.2 2590.0 1383.3 2591.3 1377.5 2592.5 1371.6 2593.7 1365.7 2594.8 1359.8 2595.9 1353.9 2597.0 1348.0 2598.0 1342.0 2599.0 1336.1 2599.9 1330.2 2600.8 1324.2 2601.7 1318.3 2602.6 1312.3 2603.4 1306.4 2604.2 1300.4 2605.0 1294.5 2605.7 1288.5 2606.4 1282.6 2607.2 1276.6 2607.9 1270.6 2608.6 1264.7 2609.2 1258.7 2609.9 1252.7 2610.5 1246.7 2611.1 1240.8 2611.7 1234.8 2612.3 1228.8 2612.9 1222.8 2613.5 1216.9 2614.0 1210.9 2614.6 1204.9 2615.1 1198.9 2615.6 1192.9 2616.1 1186.9 2616.6 1180.9 2617.0 1174.9 2617.5 1169.0 2617.9 1163.0 2618.4 1157.0 2618.8 1151.0 2619.2 1145.0 2619.6 1139.0 2620.0 1133.0 2620.4 1127.0 2620.7 1121.0 2621.1 1115.0 2621.5 1109.0 2621.8 1103.0 2622.1 1097.0 2622.5 1091.0 2622.8 1085.0 2623.1 1079.0 2623.4 1073.0 2623.7 1067.0 2624.0 1061.0 2624.2 1055.0 2624.5 1049.0 2624.8 1043.0 2625.0 1037.0 2625.3 1031.0 2625.5 1025.0 2625.8 1019.0 2626.0 1013.0 2626.3 1007.0 2626.5 1001.0 2626.7 995.0 2626.9 989.0 2627.2 983.0 2627.4 977.0 2627.6 971.0 2627.8 965.0 2628.0 959.0 2628.2 952.9 2628.4 946.9 2628.6 940.9 2628.8 934.9 2629.0 928.9 2629.2 922.9 2629.4 916.9 2629.6 910.9 2629.7 904.9 2629.9 898.9 2630.1 892.9 2630.3 886.9 2630.4 880.9 2630.6 874.9 2630.7 868.9 2630.9 862.9 2631.1 856.9 2631.2 850.9 2631.4 844.8 2631.5 838.8 2631.6 832.8 2631.8 826.8 2631.9 820.8 2632.0 814.8 2632.2 808.8 2632.3 802.8 2632.4 796.8 2632.6 790.8 2632.7 784.8 2632.8 778.8 2632.9 772.8 2633.0 766.8 2633.1 760.8 2633.2 754.7 2633.3 748.7 2633.5 742.7 2633.6 736.7 2633.7 730.7 2633.7 724.7 2633.8 718.7 2633.9 712.7 2634.0 706.7 2634.1 700.7 2634.2 694.7 2634.3 688.7 2634.3 682.7 2634.4 676.6 2634.5 670.6 2634.6 664.6 2634.6 658.6 2634.7 652.6 2634.8 646.6 2634.8 640.6 2634.9 634.6 2635.0 628.6 2635.0 622.6 2635.1 616.6 2635.1 610.6 2635.2 604.6 2635.2 598.5 2635.3 592.5 2635.3 586.5 2635.4 580.5 2635.4 574.5 2635.5 568.5 2635.5 562.5 2635.5 556.5 2635.6 550.5 2635.6 544.5 2635.6 538.5 2635.7 532.5 2635.7 526.5 2635.7 520.4 2635.7 514.4 2635.8 508.4 2635.8 502.4 2635.8 496.4 2635.8 490.4 2635.8 484.4 2635.9 478.4 2635.9 472.4 2635.9 466.4 2635.9 460.4 2635.9 454.4 2635.9 448.3 2635.9 442.3 2635.9 436.3 2635.9 430.3 2635.9 424.3 2635.9 418.3 2635.9 412.3 2635.9 406.3 2635.9 400.3 2635.9 394.3 2635.9 388.3 2635.9 382.3 2635.9 376.3 2635.9 370.2 2635.9 364.2 2635.9 358.2 2635.9 352.2 2635.9 346.2 2635.9 340.2 2635.8 334.2 2635.8 328.2 2635.8 322.2 2635.8 316.2 2635.8 310.2 2635.8 304.2 2635.7 298.1 2635.7 292.1 2635.7 286.1 2635.7 280.1 2635.7 274.1 2635.6 268.1 2635.6 262.1 2635.6 256.1 2635.6 250.1 2635.5 244.1 2635.5 238.1 2635.5 232.1 2635.5 226.0 2635.4 220.0 2635.4 214.0 2635.4 208.0 2635.4 202.0 2635.3 196.0 2635.3 190.0" stroke="#000" stroke-width="20.7"/>
</g>
<g fill="#000">
<text transform="translate(443.00 2789.90) scale(1 1.0233)" font-size="105.57">0</text>
<text transform="translate(640.30 2789.90) scale(1 1.0233)" font-size="105.57">0.</text>
<text transform="translate(728.33 2789.90) scale(1 1.0233)" font-size="105.57" clip-path="url(#c1_0)">1</text>
<text transform="translate(861.78 2789.90) scale(1 1.0233)" font-size="105.57">0.2</text>
<text transform="translate(1091.69 2789.90) scale(1 1.0233)" font-size="105.57">0.3</text>
<text transform="translate(1320.61 2789.90) scale(1 1.0233)" font-size="105.57">0.4</text>
<text transform="translate(1551.25 2789.90) scale(1 1.0233)" font-size="105.57">0.5</text>
<text transform="translate(1781.44 2789.90) scale(1 1.0233)" font-size="105.57">0.6</text>
<text transform="translate(2011.36 2789.90) scale(1 1.0233)" font-size="105.57">0.7</text>
<text transform="translate(2241.27 2789.90) scale(1 1.0233)" font-size="105.57">0.8</text>
<text transform="translate(2471.90 2789.90) scale(1 1.0233)" font-size="105.57">0.9</text>
<text transform="translate(2750.91 2789.90) scale(1 1.0233)" font-size="105.57" clip-path="url(#c1_1)">1</text>
<text transform="translate(384.80 2709.80) scale(1 1.0971)" font-size="100.92">0</text>
<text transform="translate(384.85 2216.70) scale(1 1.0971)" font-size="100.92">5</text>
<text transform="translate(331.60 1727.70) scale(1 1.0971)" font-size="100.92" clip-path="url(#c1_2)">1</text>
<text transform="translate(387.73 1727.70) scale(1 1.0971)" font-size="100.92">0</text>
<text transform="translate(328.90 1235.70) scale(1 1.0971)" font-size="100.92" clip-path="url(#c1_3)">1</text>
<text transform="translate(385.02 1235.70) scale(1 1.0971)" font-size="100.92">5</text>
<text transform="translate(328.90 746.70) scale(1 1.0971)" font-size="100.92">20</text>
<text transform="translate(325.55 254.70) scale(1 1.0971)" font-size="100.92">25</text>
<text transform="translate(2493.70 2991.77) scale(1 1.0257)" font-size="143.06">sin</text>
<text transform="translate(2697.80 2989.99) scale(1 0.8525)" font-size="165.65" class="g">θ</text>
<text transform="rotate(-90) translate(-518.80 136.34) scale(1 1.0553)" font-size="143.52">tan</text>
<text transform="rotate(-90) translate(-294.90 133.72) scale(1 0.9493)" font-size="159.30" class="g">β</text>
<text transform="translate(473.10 174.00) scale(1 1.0494)" font-size="119.91" font-weight="bold">CMS</text>
<text transform="translate(754.40 173.80) scale(1 1.0710)" font-size="90.38" font-style="italic">Preliminary</text>
<text transform="translate(1908.90 173.90) scale(1 1.0500)" font-size="119.10" clip-path="url(#c1_4)">1</text>
<text transform="translate(1975.13 173.90) scale(1 1.0500)" font-size="119.10">38 fb</text>
<text transform="translate(2233.11 121.00) scale(1 1.0405)" font-size="82.00">-</text>
<text transform="translate(2260.42 121.00) scale(1 1.0405)" font-size="82.00" clip-path="url(#c1_5)">1</text>
<text transform="translate(2322.70 174.50) scale(1 1.0318)" font-size="122.91">(</text>
<text transform="translate(2363.62 174.50) scale(1 1.0318)" font-size="122.91" clip-path="url(#c1_6)">1</text>
<text transform="translate(2431.98 174.50) scale(1 1.0318)" font-size="122.91">3 TeV)</text>
<text transform="translate(1560.30 376.26) scale(1 1.0353)" font-size="91.91">Observed</text>
<text transform="translate(1559.20 547.72) scale(1 0.9988)" font-size="91.82">Median expected</text>
<text transform="translate(1560.70 719.36) scale(1 1.0023)" font-size="91.66">95% expected</text>
</g>
<path d="M1305 334H1515" stroke="#000" stroke-width="20.7"/>
<path d="M1305 507.5H1515" stroke="#3f90da" stroke-width="16.6" stroke-dasharray="16.7 16.6"/>
<path d="M1305 682H1515" stroke="#bd1f01" stroke-width="16.6" stroke-dasharray="16.7 16.6"/>
<g fill="#717581">
<text transform="translate(1258.70 922.80) scale(1 1.0556)" font-size="92.16" font-weight="bold">2HDM</text>
<text transform="translate(1518.40 930.17) scale(1 0.9667)" font-size="88.32" font-weight="bold">+</text>
<text transform="translate(1570.60 922.80) scale(1 1.0556)" font-size="91.71" font-weight="bold">a, m</text>
<text transform="translate(1755.20 964.80) scale(1 1.0357)" font-size="60.86" font-weight="bold">H</text>
<text transform="translate(1797.60 930.92) scale(1 0.9788)" font-size="87.94" font-weight="bold">=</text>
<text transform="translate(1849.20 922.80) scale(1 1.0556)" font-size="92.11" font-weight="bold">m</text>
<text transform="translate(1926.40 947.80) scale(1 1.0333)" font-size="61.05" font-weight="bold">A</text>
<text transform="translate(1969.40 930.55) scale(1 0.9500)" font-size="89.53" font-weight="bold">=</text>
<text transform="translate(2022.40 922.80) scale(1 1.0556)" font-size="91.32" font-weight="bold">m</text>
<text transform="translate(2099.10 954.90) scale(1 1.0561)" font-size="59.51" font-weight="bold">H</text>
<text transform="translate(2140.50 925.50) scale(1 0.9714)" font-size="45.51">±</text>
<text transform="translate(1257.80 1073.40) scale(1 1.0556)" font-size="93.16" font-weight="bold">m</text>
<text transform="translate(1335.90 1098.30) scale(1 1.0238)" font-size="60.51" font-weight="bold">H</text>
<text transform="translate(1379.40 1081.52) scale(1 0.9788)" font-size="88.73" font-weight="bold">=</text>
<text transform="translate(1430.40 1073.40) scale(1 1.0556)" font-size="93.49" font-weight="bold">800 GeV, m</text>
<text transform="translate(1919.80 1113.09) scale(1 1.1065)" font-size="54.60" font-weight="bold">a</text>
<text transform="translate(1955.50 1081.15) scale(1 0.9500)" font-size="90.13" font-weight="bold">=</text>
<text transform="translate(2008.10 1073.40) scale(1 1.0556)" font-size="90.86" font-weight="bold">300 GeV</text>
<text transform="translate(1258.40 1228.90) scale(1 1.0556)" font-size="91.85" font-weight="bold">m</text>
<text transform="translate(1337.34 1246.00) scale(0.7825 1) skewX(-14.0)" font-size="54.94" class="ns" font-weight="bold">χ</text>
<text transform="translate(1367.00 1236.30) scale(1 0.9229)" font-size="92.33" font-weight="bold">=</text>
<text transform="translate(1421.90 1228.90) scale(1 1.0556)" font-size="92.87" font-weight="bold">45 GeV, y</text>
<text transform="translate(1833.14 1266.90) scale(0.7825 1) skewX(-14.0)" font-size="55.06" class="ns" font-weight="bold">χ</text>
<text transform="translate(1863.50 1236.30) scale(1 0.9229)" font-size="91.51" font-weight="bold">=</text>
<text transform="translate(1917.31 1228.90) scale(1 1.0556)" font-size="92.16" font-weight="bold" clip-path="url(#c1_7)">1</text>
</g>
<defs><clipPath id="c1_0"><rect x="-52.79" y="-158.36" width="211.15" height="149.11"/><rect x="26.50" y="-9.95" width="9.40" height="29.56"/></clipPath><clipPath id="c1_1"><rect x="-52.79" y="-158.36" width="211.15" height="149.11"/><rect x="26.50" y="-9.95" width="9.40" height="29.56"/></clipPath><clipPath id="c1_2"><rect x="-50.46" y="-151.37" width="201.83" height="142.50"/><rect x="25.33" y="-9.57" width="8.98" height="28.26"/></clipPath><clipPath id="c1_3"><rect x="-50.46" y="-151.37" width="201.83" height="142.50"/><rect x="25.33" y="-9.57" width="8.98" height="28.26"/></clipPath><clipPath id="c1_4"><rect x="-59.55" y="-178.65" width="238.20" height="168.32"/><rect x="29.89" y="-11.03" width="10.60" height="33.35"/></clipPath><clipPath id="c1_5"><rect x="-41.00" y="-123.00" width="164.00" height="115.64"/><rect x="20.58" y="-8.06" width="7.30" height="22.96"/></clipPath><clipPath id="c1_6"><rect x="-61.46" y="-184.37" width="245.82" height="173.74"/><rect x="30.85" y="-11.33" width="10.94" height="34.42"/></clipPath><clipPath id="c1_7"><rect x="-46.08" y="-138.24" width="184.32" height="127.58"/><rect x="21.47" y="-11.36" width="12.72" height="28.29"/></clipPath></defs>
</svg>
</body></html>
